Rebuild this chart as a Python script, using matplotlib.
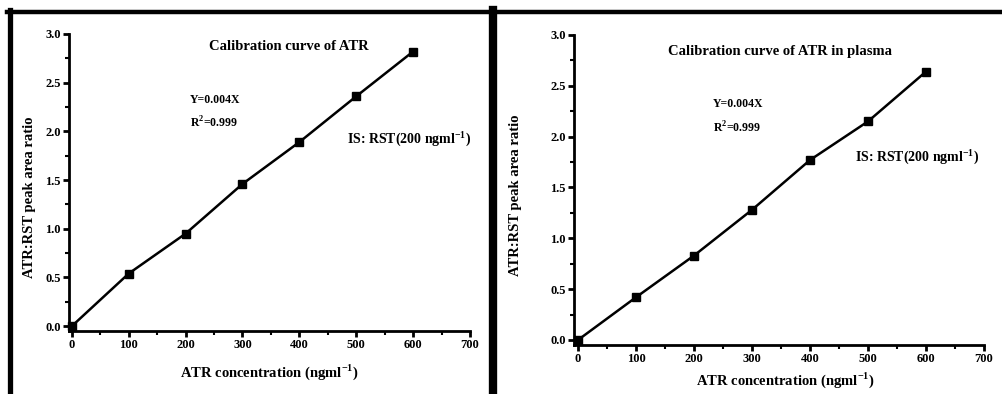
import matplotlib
matplotlib.use("Agg")
import matplotlib.pyplot as plt
from matplotlib.ticker import MultipleLocator
from matplotlib.lines import Line2D

plt.rcParams['font.family'] = ['Liberation Serif', 'DejaVu Serif']
plt.rcParams['font.weight'] = 'bold'
plt.rcParams['mathtext.fontset'] = 'custom'
plt.rcParams['mathtext.rm'] = 'Liberation Serif:bold'
plt.rcParams['mathtext.bf'] = 'Liberation Serif:bold'

conc = [0, 100, 200, 300, 400, 500, 600]
ratio_std = [0.0, 0.54, 0.95, 1.46, 1.89, 2.36, 2.82]
ratio_plasma = [0.0, 0.42, 0.83, 1.28, 1.77, 2.15, 2.64]
titles = ["Calibration curve of ATR", "Calibration curve of ATR in plasma"]
eq_text = "Y=0.004X"
r2_text = r"R$^{\mathbf{2}}$=0.999"
is_text = r"IS: RST(200 ngml$^{\mathbf{-1}}$)"
xlabel = r"ATR concentration (ngml$^{\mathbf{-1}}$)"
ylabel = "ATR:RST peak area ratio"
yticklabels = ["0.0", "0.5", "1.0", "1.5", "2.0", "2.5", "3.0"]

W, H = 1002, 394
fig = plt.figure(figsize=(W / 100, H / 100), dpi=100)

def fx(px):
    return px / W

def fy(py):
    return 1 - py / H

panels = [
    dict(data=ratio_std, x0=69, x1=470, ytop=34, ybot=331, xlo=-5, ylo=-0.05,
         title=(289, 47), eq=(190, 100), r2=(190, 123), is_=(347, 139),
         ylab=(30, 197), xlab=(269, 372)),
    dict(data=ratio_plasma, x0=574, x1=984, ytop=35, ybot=345, xlo=-7, ylo=-0.05,
         title=(780, 51), eq=(713, 104), r2=(713, 128), is_=(855, 157),
         ylab=(515, 195), xlab=(785, 380)),
]

for i, p in enumerate(panels):
    ax = fig.add_axes([fx(p['x0']), fy(p['ybot']), fx(p['x1'] - p['x0']),
                       (p['ybot'] - p['ytop']) / H])
    ax.plot(conc, p['data'], color='black', lw=1.8, marker='s', ms=5.5,
            clip_on=False, zorder=5)
    ax.set_xlim(p['xlo'], 700)
    ax.set_ylim(p['ylo'], 3.0)
    ax.set_xticks(range(0, 701, 100))
    ax.set_yticks([0.0, 0.5, 1.0, 1.5, 2.0, 2.5, 3.0])
    ax.set_yticklabels(yticklabels)
    ax.xaxis.set_minor_locator(MultipleLocator(50))
    ax.yaxis.set_minor_locator(MultipleLocator(0.25))
    for s in ['top', 'right']:
        ax.spines[s].set_visible(False)
    for s in ['left', 'bottom']:
        ax.spines[s].set_linewidth(2)
    ax.tick_params(which='major', direction='out', length=4, width=2,
                   labelsize=9, pad=2)
    ax.tick_params(which='minor', direction='out', length=3, width=1.5)
    for lab in ax.get_xticklabels() + ax.get_yticklabels():
        lab.set_fontweight('bold')

    fig.text(fx(p['title'][0]), fy(p['title'][1]), titles[i], ha='center',
             va='center', fontsize=10.5, fontweight='bold')
    fig.text(fx(p['eq'][0]), fy(p['eq'][1]), eq_text, ha='left', va='center',
             fontsize=8.5, fontweight='bold')
    fig.text(fx(p['r2'][0]), fy(p['r2'][1]), r2_text, ha='left', va='center',
             fontsize=8.5, fontweight='bold')
    fig.text(fx(p['is_'][0]), fy(p['is_'][1]), is_text, ha='left', va='center',
             fontsize=10, fontweight='bold')
    fig.text(fx(p['ylab'][0]), fy(p['ylab'][1]), ylabel, ha='center',
             va='center', rotation=90, fontsize=10.5, fontweight='bold')
    fig.text(fx(p['xlab'][0]), fy(p['xlab'][1]), xlabel, ha='center',
             va='center', fontsize=10.5, fontweight='bold')

# black frame lines
fig.add_artist(Line2D([fx(7), 1], [fy(12), fy(12)], color='black', lw=3.2,
                      transform=fig.transFigure))
fig.add_artist(Line2D([fx(9.5), fx(9.5)], [0, fy(10)], color='black', lw=3.8,
                      transform=fig.transFigure))
fig.add_artist(Line2D([fx(493), fx(493)], [0, fy(10)], color='black', lw=6,
                      transform=fig.transFigure))

fig.savefig("out.png", dpi=100)
